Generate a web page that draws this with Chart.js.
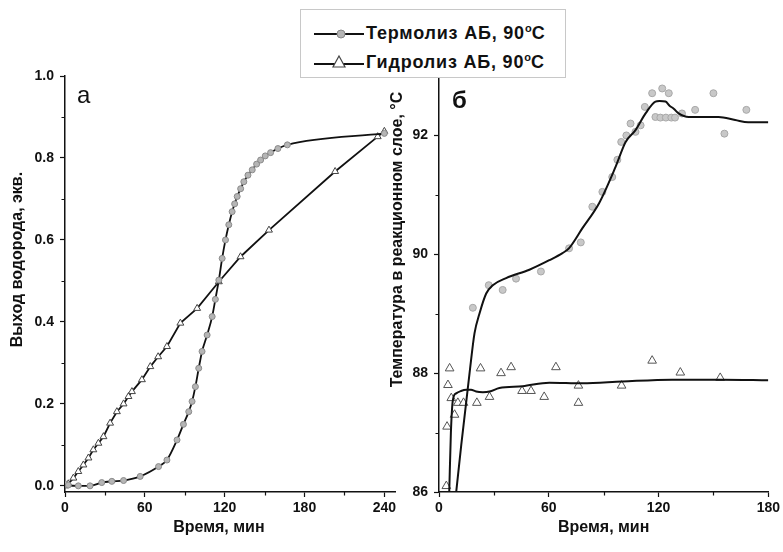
<!DOCTYPE html>
<html>
<head>
<meta charset="utf-8">
<script src="https://cdn.jsdelivr.net/npm/chart.js@4.4.1/dist/chart.umd.min.js"></script>
<style>
  html, body { margin: 0; padding: 0; background: #fff; }
  #wrap { position: relative; width: 783px; height: 552px; overflow: hidden; background: #fff; }
  #cLeft { position: absolute; left: 0; top: 0; }
  #cRight { position: absolute; left: 380px; top: 0; }
  #legend { position: absolute; left: 300px; top: 9px; width: 264px; height: 67px; border: 1px solid #c8c8c8; background: #fff;
            font-family: "Liberation Sans", Arial, sans-serif; font-weight: bold; font-size: 18px; letter-spacing: 0.8px; color: #111; z-index: 5; }
  .row { position: absolute; left: 0; height: 24px; width: 264px; }
  .row svg { position: absolute; left: 12px; top: 0; }
  .row span { position: absolute; left: 65px; top: 1px; white-space: nowrap; }
  sup { font-size: 11px; vertical-align: 7px; line-height: 0; letter-spacing: 0; }
</style>
</head>
<body>
<div id="wrap">
  <canvas id="cLeft" width="400" height="552"></canvas>
  <canvas id="cRight" width="403" height="552"></canvas>
  <div id="legend">
    <div class="row" style="top:12px">
      <svg width="52" height="24"><line x1="1" y1="12" x2="51" y2="12" stroke="#111" stroke-width="2"/><circle cx="28" cy="12" r="4" fill="#b5b5b5" stroke="#888" stroke-width="1"/></svg>
      <span id="lg1"></span>
    </div>
    <div class="row" style="top:41px">
      <svg width="52" height="24"><line x1="1" y1="13" x2="51" y2="13" stroke="#111" stroke-width="2"/><polygon points="26,5 32,16 20,16" fill="#fff" stroke="#444" stroke-width="1.2"/></svg>
      <span id="lg2"></span>
    </div>
  </div>
</div>
<script>
// ---------- Data ----------
const seriesNames = ['Термолиз АБ, 90', 'Гидролиз АБ, 90'];

// Panel a: hydrogen yield vs time
const thermoTime  = [0, 2.5, 10, 18.8, 27.6, 35.2, 44, 56.5, 70.3, 76.6, 84.2, 89, 93, 95.5, 98, 100.5, 103, 106.8, 110.6, 113, 115.6, 118.1, 120.6, 123.1, 125.6, 127.5, 129.4, 132, 134.4, 137.5, 140.7, 144, 147, 150.5, 154.5, 160, 167.1, 240];
const thermoYield = [0.005, 0.002, 0.0, 0.0, 0.008, 0.011, 0.013, 0.023, 0.047, 0.063, 0.112, 0.15, 0.181, 0.206, 0.242, 0.287, 0.328, 0.368, 0.413, 0.455, 0.502, 0.555, 0.6, 0.637, 0.669, 0.688, 0.706, 0.725, 0.742, 0.758, 0.771, 0.785, 0.795, 0.805, 0.813, 0.823, 0.832, 0.86];
const hydroTime   = [0, 2.5, 6.3, 10, 13.8, 17.6, 21.3, 25.1, 28.9, 33.9, 39, 44, 47.7, 50.3, 57.8, 64.1, 70, 76.6, 86.7, 99.3, 115.6, 131.9, 153.3, 203, 235, 240];
const hydroYield  = [0.0, 0.005, 0.019, 0.035, 0.051, 0.068, 0.088, 0.104, 0.12, 0.153, 0.181, 0.2, 0.218, 0.23, 0.259, 0.291, 0.315, 0.34, 0.397, 0.433, 0.498, 0.559, 0.624, 0.767, 0.852, 0.865];

// Panel б: temperature in reaction layer vs time
const thermoTempTime = [18.5, 27.2, 34.8, 42.1, 55.7, 71.1, 77.5, 83.8, 89.3, 94.7, 97.5, 99.6, 102.4, 104.7, 107.4, 110.2, 112.5, 116.5, 118.3, 121, 122, 124, 125.6, 127, 129, 132.8, 140, 150, 156, 168];
const thermoTemp     = [89.10, 89.48, 89.40, 89.59, 89.71, 90.10, 90.20, 90.80, 91.05, 91.30, 91.59, 91.89, 92.0, 92.2, 92.06, 92.17, 92.48, 92.71, 92.31, 92.30, 92.79, 92.30, 92.71, 92.30, 92.30, 92.37, 92.43, 92.71, 92.03, 92.43];
const thermoCurveTime = [9.4, 12.2, 16.7, 19.4, 22.1, 25.8, 29.4, 36.7, 49.4, 60.3, 67.5, 71, 78.4, 87.5, 96.5, 102, 107.4, 112.9, 118.3, 120.5, 123.8, 126, 128.3, 131, 136.5, 145.5, 152.8, 161.9, 169, 180];
const thermoCurveTemp = [86, 86.8, 88, 88.67, 89.0, 89.34, 89.48, 89.6, 89.74, 89.9, 90.02, 90.1, 90.44, 90.86, 91.47, 91.89, 92.09, 92.37, 92.57, 92.58, 92.57, 92.5, 92.45, 92.37, 92.31, 92.31, 92.31, 92.26, 92.22, 92.22];
const hydroTempTime = [4, 4.4, 4.9, 5.8, 6.7, 8.5, 10.3, 13.4, 20.7, 22.7, 27.6, 33.9, 39.4, 45.4, 50.3, 57.5, 63.9, 76.2, 76.2, 99.8, 116.5, 131.9, 153.7];
const hydroTemp     = [86.1, 87.1, 87.8, 88.08, 87.58, 87.3, 87.5, 87.5, 87.5, 88.08, 87.6, 88.0, 88.1, 87.7, 87.7, 87.6, 88.1, 87.79, 87.5, 87.79, 88.21, 88.01, 87.92];
const hydroCurveTime = [5.6, 6.5, 7.6, 9.4, 12, 14.9, 17.5, 20.3, 24, 27.6, 33, 45.7, 60.3, 78.4, 100.2, 127.4, 154.6, 180];
const hydroCurveTemp = [86, 87.0, 87.55, 87.66, 87.7, 87.72, 87.72, 87.69, 87.68, 87.69, 87.75, 87.78, 87.84, 87.83, 87.86, 87.89, 87.89, 87.88];

// Ticks
const leftXTicks  = [0, 60, 120, 180, 240];
const leftXMinor  = [30, 90, 150, 210];
const leftYTicks  = [0, 0.2, 0.4, 0.6, 0.8, 1.0];
const leftYMinor  = [0.1, 0.3, 0.5, 0.7, 0.9];
const rightXTicks = [0, 60, 120, 180];
const rightXMinor = [30, 90, 150];
const rightYTicks = [86, 88, 90, 92];
const rightYMinor = [87, 89, 91];

const xTitle = 'Время, мин';
const leftYTitle = 'Выход водорода, экв.';
const rightYTitle = 'Температура в реакционном слое, °C';
const panelLabels = ['а', 'б'];

// legend text
document.getElementById('lg1').innerHTML = seriesNames[0] + '<sup>o</sup>C';
document.getElementById('lg2').innerHTML = seriesNames[1] + '<sup>o</sup>C';

// ---------- Helpers ----------
const pts = (xs, ys) => xs.map((x, i) => ({ x, y: ys[i] }));
const FONT = '"Liberation Sans", Arial, sans-serif';
Chart.defaults.font.family = FONT;
Chart.defaults.color = '#111';
Chart.defaults.animation = false;

const decor = {
  id: 'decor',
  afterDraw(chart, args, o) {
    const ctx = chart.ctx, xs = chart.scales.x, ys = chart.scales.y;
    ctx.save();
    ctx.strokeStyle = '#111';
    ctx.lineWidth = 1.2;
    ctx.beginPath();
    o.xMinor.forEach(v => { const p = Math.round(xs.getPixelForValue(v)) + 0.5; ctx.moveTo(p, xs.top); ctx.lineTo(p, xs.top + 3.5); });
    o.yMinor.forEach(v => { const p = Math.round(ys.getPixelForValue(v)) + 0.5; ctx.moveTo(ys.right - 3.5, p); ctx.lineTo(ys.right, p); });
    ctx.stroke();
    ctx.fillStyle = '#111';
    ctx.font = o.labelFont;
    ctx.textBaseline = 'alphabetic';
    ctx.fillText(o.label, o.lx, o.ly);
    ctx.restore();
  }
};

function axisX(min, max, ticks, title) {
  return {
    type: 'linear', min, max,
    afterBuildTicks: s => { s.ticks = ticks.map(v => ({ value: v })); },
    afterFit: s => { s.height = 60; },
    border: { display: true, color: '#111', width: 1.5 },
    grid: { drawOnChartArea: false, drawTicks: true, tickLength: 5, tickColor: '#111', tickWidth: 1.2 },
    ticks: { font: { size: 14, weight: 'bold' }, color: '#111', padding: 3, maxRotation: 0, autoSkip: false, callback: v => String(v) },
    title: { display: true, text: title, font: { size: 16, weight: 'bold' }, color: '#111', padding: { top: 0, bottom: 15 } }
  };
}
function axisY(min, max, ticks, title, width, fmt) {
  return {
    type: 'linear', min, max,
    afterBuildTicks: s => { s.ticks = ticks.map(v => ({ value: v })); },
    afterFit: s => { s.width = width; },
    border: { display: true, color: '#111', width: 1.5 },
    grid: { drawOnChartArea: false, drawTicks: true, tickLength: 5, tickColor: '#111', tickWidth: 1.2 },
    ticks: { font: { size: 14, weight: 'bold' }, color: '#111', padding: 6, autoSkip: false, callback: fmt },
    title: { display: true, text: title, font: { size: 16, weight: 'bold' }, color: '#111', padding: { top: 8, bottom: 0 } }
  };
}

const nb = n => '\u00a0'.repeat(n);

// ---------- Left chart (а) ----------
new Chart(document.getElementById('cLeft'), {
  type: 'line',
  data: {
    datasets: [
      {
        label: seriesNames[0], data: pts(thermoTime, thermoYield),
        borderColor: '#111', borderWidth: 1.8, cubicInterpolationMode: 'monotone',
        pointStyle: 'circle', pointRadius: 3, pointBackgroundColor: '#b5b5b5', pointBorderColor: '#8a8a8a', pointBorderWidth: 1
      },
      {
        label: seriesNames[1], data: pts(hydroTime, hydroYield),
        borderColor: '#111', borderWidth: 1.8, tension: 0,
        pointStyle: 'triangle', pointRadius: 4, pointBackgroundColor: '#fff', pointBorderColor: '#444', pointBorderWidth: 1
      }
    ]
  },
  options: {
    responsive: false, maintainAspectRatio: false,
    layout: { padding: { top: 76, right: 5, left: 0, bottom: 0 } },
    plugins: {
      legend: { display: false }, tooltip: { enabled: false },
      decor: { xMinor: leftXMinor, yMinor: leftYMinor, label: panelLabels[0], labelFont: '24px ' + FONT, lx: 77, ly: 103 }
    },
    scales: {
      x: axisX(0, 248, leftXTicks, xTitle + nb(5)),
      y: axisY(-0.015, 1.0, leftYTicks, nb(11) + leftYTitle, 65, v => v.toFixed(1))
    }
  },
  plugins: [decor]
});

// ---------- Right chart (б) ----------
new Chart(document.getElementById('cRight'), {
  type: 'line',
  data: {
    datasets: [
      {
        label: seriesNames[0] + ' curve', data: pts(thermoCurveTime, thermoCurveTemp), order: 0,
        borderColor: '#111', borderWidth: 2, cubicInterpolationMode: 'monotone', pointRadius: 0
      },
      {
        label: seriesNames[1] + ' curve', data: pts(hydroCurveTime, hydroCurveTemp), order: 0,
        borderColor: '#111', borderWidth: 2, cubicInterpolationMode: 'monotone', pointRadius: 0
      },
      {
        label: seriesNames[0], data: pts(thermoTempTime, thermoTemp), order: 1, showLine: false,
        pointStyle: 'circle', pointRadius: 3.5, pointBackgroundColor: '#c8c8c8', pointBorderColor: '#a8a8a8', pointBorderWidth: 1
      },
      {
        label: seriesNames[1], data: pts(hydroTempTime, hydroTemp), order: 1, showLine: false,
        pointStyle: 'triangle', pointRadius: 5, pointBackgroundColor: '#fff', pointBorderColor: '#555', pointBorderWidth: 1
      }
    ]
  },
  options: {
    responsive: false, maintainAspectRatio: false,
    layout: { padding: { top: 76, right: 12, left: 0, bottom: 0 } },
    plugins: {
      legend: { display: false }, tooltip: { enabled: false },
      decor: { xMinor: rightXMinor, yMinor: rightYMinor, label: panelLabels[1], labelFont: 'bold 24px ' + FONT, lx: 72, ly: 108 }
    },
    scales: {
      x: axisX(0, 180, rightXTicks, xTitle),
      y: axisY(86, 93, rightYTicks, nb(20) + rightYTitle, 59, v => String(v))
    }
  },
  plugins: [decor]
});
</script>
</body>
</html>
